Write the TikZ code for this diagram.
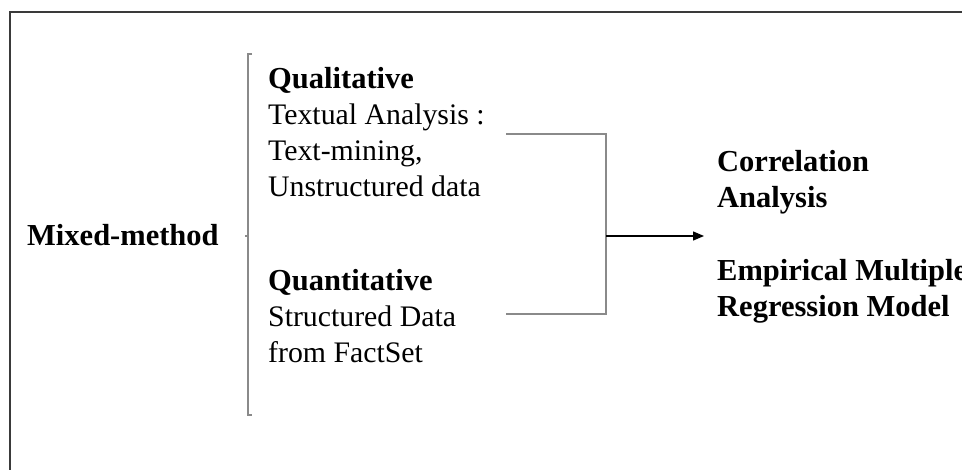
\documentclass[tikz,border=0pt]{standalone}
\usepackage{fontspec}
\setmainfont{Liberation Serif}
\usetikzlibrary{arrows.meta,calc}
\definecolor{framegray}{HTML}{3A3A3A}
\definecolor{linegray}{HTML}{8A8A8A}
\newcommand{\hd}[1]{{\fontsize{30.5}{36.3}\selectfont\bfseries #1}}
\tikzset{
  % multi-line nodes: the base anchor sits on the last line's baseline
  txt/.style={inner sep=0pt, anchor=base west, align=left,
    font=\fontsize{29.8}{36.3}\selectfont},
  conn/.style={draw=linegray, line width=1.3pt},
  brace/.style={draw=linegray, line width=1.2pt},
  flow/.style={draw=black, line width=1.4pt, -{Triangle[length=11pt,width=9pt]}}
}
\begin{document}
\begin{tikzpicture}[x=1pt,y=-1pt]
\useasboundingbox (0,0) rectangle (962,470);
\fill[white] (0,0) rectangle (962,470);
\clip (0,0) rectangle (962,470);

% outer frame, running past the right and bottom edges
\draw[framegray, line width=2pt] (10,12) rectangle (990,500);

% left-hand label
\node[txt] (mixed) at (27,246) {\hd{Mixed-method}};

% the two strands of the method
\node[txt] (qual) at (268,197) {\hd{Qualitative}\\Textual Analysis :\\Text-mining,\\Unstructured data};
\node[txt] (quant) at (268,363) {\hd{Quantitative}\\Structured Data\\from FactSet};

% outputs
\node[txt] (corr) at (717,208) {\hd{Correlation}\\\hd{Analysis}};
\node[txt] (emp) at (717,317) {\hd{Empirical Multiple}\\\hd{Regression Model}};

% square bracket grouping the strands
\coordinate (bt) at (248,54);
\coordinate (bb) at (248,415);
\coordinate (bm) at (248,236);
\draw[brace] ($(bt)+(4,0)$) -- (bt) -- (bb) -- ($(bb)+(4,0)$);
\draw[brace] (bm) -- ($(bm)+(-3,0)$);

% connectors joining the strands into one arrow
\coordinate (qa) at (506,134);
\coordinate (na) at (506,314);
\coordinate (jt) at (606,134);
\coordinate (jb) at (606,314);
\coordinate (jm) at (606,236);
\coordinate (tip) at (704,236);
\draw[conn] (qa) -- (jt) -- (jb) -- (na);
\draw[flow] (jm) -- (tip);
\end{tikzpicture}
\end{document}
